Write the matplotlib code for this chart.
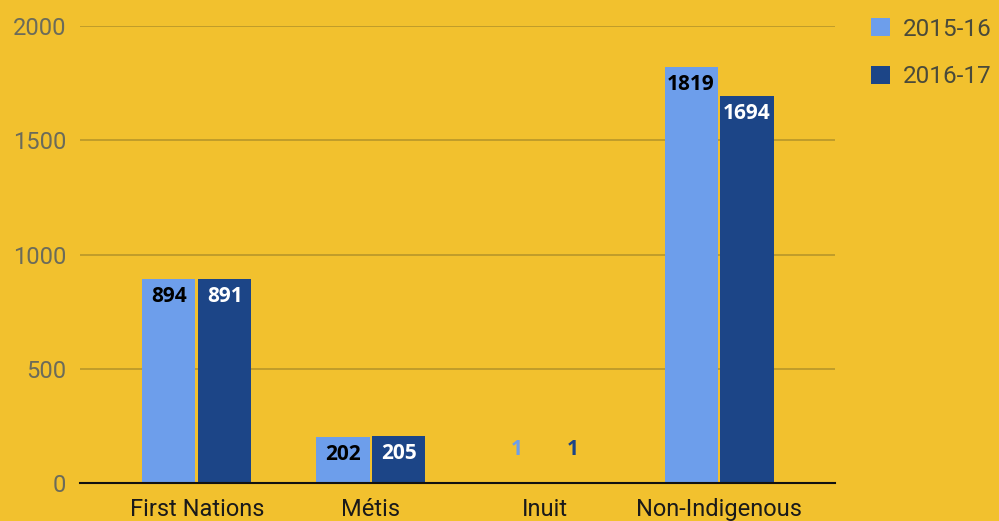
import matplotlib.pyplot as plt
import numpy as np

categories = ['First Nations', 'Métis', 'Inuit', 'Non-Indigenous']
series_names = ['2015-16', '2016-17']
values_1516 = [894, 202, 1, 1819]
values_1617 = [891, 205, 1, 1694]

bg = '#F2C12E'
light = '#6D9EEB'
dark = '#1C4587'

plt.rcParams['font.family'] = ['Roboto', 'DejaVu Sans']

fig = plt.figure(figsize=(9.99, 5.21), dpi=100, facecolor=bg)
ax = fig.add_axes([0.080, 0.0729, 0.756, 0.877], facecolor=bg)

x = np.arange(len(categories))
w = 0.305
b1 = ax.bar(x - w / 2 - 0.008, values_1516, w, color=light, label=series_names[0], zorder=3)
b2 = ax.bar(x + w / 2 + 0.008, values_1617, w, color=dark, label=series_names[1], zorder=3)

ax.set_ylim(0, 2000)
ax.set_xlim(-0.672, 3.667)
ax.set_yticks([0, 500, 1000, 1500, 2000])
ax.yaxis.grid(True, color='#B8962A', linewidth=1.2, zorder=0)
ax.set_axisbelow(True)
for s in ['top', 'right', 'left']:
    ax.spines[s].set_visible(False)
ax.spines['bottom'].set_color('#111111')
ax.spines['bottom'].set_linewidth(1.5)
ax.spines['bottom'].set_zorder(4)
ax.tick_params(axis='y', length=0, labelsize=17, labelcolor='#6b6b5a', pad=10)
ax.tick_params(axis='x', length=0, labelsize=17, labelcolor='#1a1a1a', pad=11)
ax.set_xticks(x)
ax.set_xticklabels(categories)

lab_font = ['Open Sans', 'DejaVu Sans']
for bars, txtcol in [(b1, 'black'), (b2, 'white')]:
    for rect in bars:
        h = rect.get_height()
        cx = rect.get_x() + rect.get_width() / 2
        if h > 100:
            ax.annotate(f'{int(h)}', (cx, h), xytext=(0, -5), textcoords='offset points',
                        ha='center', va='top', fontsize=15, fontweight='bold',
                        color=txtcol, family=lab_font, zorder=5)
        else:
            ax.annotate(f'{int(h)}', (cx, h), xytext=(0, 24), textcoords='offset points',
                        ha='center', va='center', fontsize=15, fontweight='bold',
                        color=rect.get_facecolor(), family=lab_font, zorder=5)

leg = fig.legend(handles=[b1, b2], labels=series_names, loc='upper left',
                 bbox_to_anchor=(0.850, 1.008), frameon=False, fontsize=17.5,
                 handlelength=0.78, handleheight=0.78, handletextpad=0.55,
                 labelspacing=1.02, labelcolor='#4a4a3a')

fig.savefig('out.png', dpi=100, facecolor=bg)
